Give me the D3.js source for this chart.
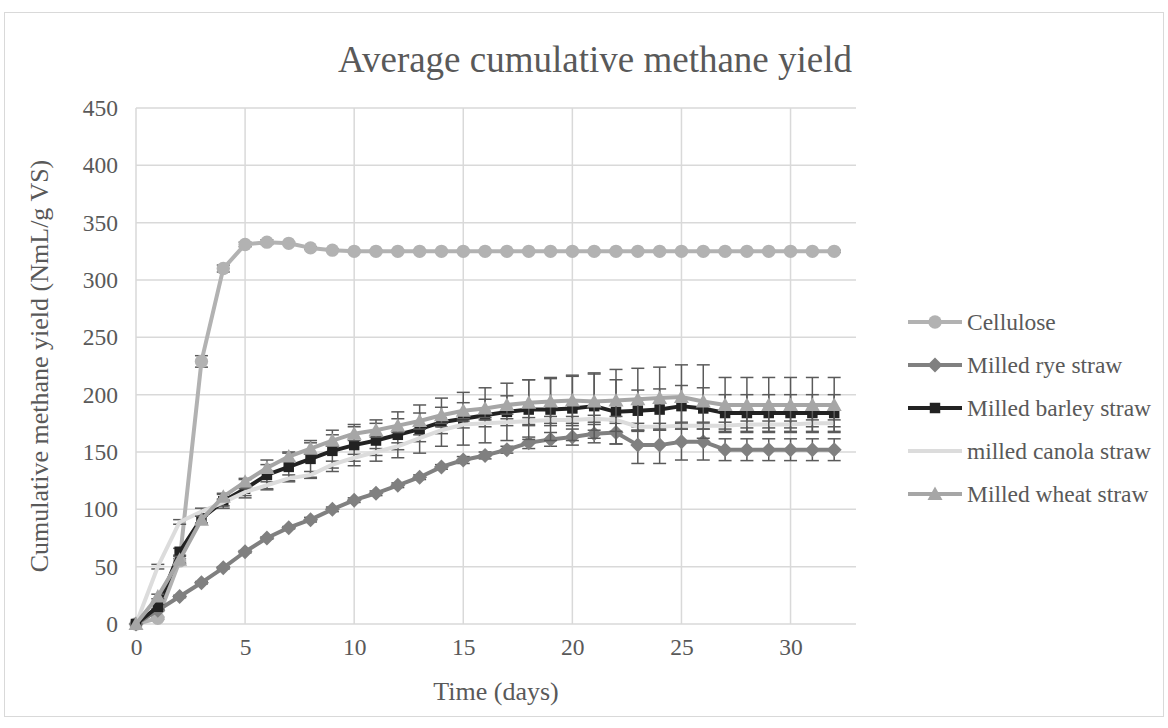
<!DOCTYPE html>
<html>
<head>
<meta charset="utf-8">
<script src="https://cdn.jsdelivr.net/npm/d3@7"></script>
<style>
  html, body { margin: 0; padding: 0; background: #fff; }
  svg { display: block; font-family: "Liberation Serif", "Times New Roman", serif; }
</style>
</head>
<body>
<svg id="chart" width="1168" height="728"></svg>
<script>
// days 0..32
var days = [0,1,2,3,4,5,6,7,8,9,10,11,12,13,14,15,16,17,18,19,20,21,22,23,24,25,26,27,28,29,30,31,32];

var cellulose = [0,5,55,229,310,331,333,332,328,326,325,325,325,325,325,325,325,325,325,325,325,325,325,325,325,325,325,325,325,325,325,325,325];
var cellErr   = [0,1,2,5,3,2,2,1,1,1,1,1,1,1,1,1,1,1,1,1,1,1,1,1,1,1,1,1,1,1,1,1,1];

var rye    = [0,12,24,36,49,63,75,84,91,100,108,114,121,128,137,143,147,152,158,161,163,166,167,156,156,159,159,152,152,152,152,152,152];
var ryeErr = [0,1,1,1,1,1,1,1,2,2,2,2,2,2,2,3,3,3,5,6,7,8,10,16,16,16,16,9.5,9.5,9.5,9.5,9.5,9.5];

var barley    = [0,15,63,92,107,118,130,137,144,151,156,160,165,170,176,179,182,185,187,187,188,190,185,186,187,190,188,184,184,184,184,184,184];
var barleyErr = [0,2,3,4,6,8,13,12,16,18,18,18,20,21,21,23,24,25,26,27,28,28,28,18,18,18,18,16,16,16,16,16,16];

var canola    = [0,50,89,98,106,115,121,127,130,139,145,150,155,162,169,174,175,176,177,178,178,179,178,172,172,173,173,173,174,174,174,175,175];
var canolaErr = [0,2,2,3,3,3,3,3,3,3,3,3,3,3,3,3,3,3,3,3,3,3,3,3,3,3,3,3,3,3,3,3,3];

var wheat    = [0,24,56,91,111,124,136,146,153,160,166,169,173,177,182,186,188,191,193,194,195,194,195,196,197,198,194,191,191,191,191,191,191];
var wheatErr = [0,2,3,3,3,3,3,4,5,5,6,6,6,7,7,7,8,8,20,21,22,25,27,27,27,28,32,24,24,24,24,24,24];

var seriesNames = ['Cellulose', 'Milled rye straw', 'Milled barley straw', 'milled canola straw', 'Milled wheat straw'];
var xTicks = [0,5,10,15,20,25,30];
var yTicks = [0,50,100,150,200,250,300,350,400,450];

var series = [
  { name: seriesNames[0], values: cellulose, err: cellErr,   color: '#b2b2b2', marker: 'circle' },
  { name: seriesNames[1], values: rye,       err: ryeErr,    color: '#808080', marker: 'diamond' },
  { name: seriesNames[2], values: barley,    err: barleyErr, color: '#222222', marker: 'square' },
  { name: seriesNames[3], values: canola,    err: canolaErr, color: '#dcdcdc', marker: null },
  { name: seriesNames[4], values: wheat,     err: wheatErr,  color: '#a6a6a6', marker: 'triangle' }
];

var textColor = '#595959';
var gridColor = '#d9d9d9';
var errColor = '#5a5a5a';
var labelSize = 23.5;
var axisTitleSize = 26;

var svg = d3.select('#chart');

// chart border
svg.append('rect')
  .attr('x', 4.5).attr('y', 12.5)
  .attr('width', 1159).attr('height', 704)
  .attr('fill', '#fff')
  .attr('stroke', gridColor)
  .attr('stroke-width', 1);

var plot = { left: 136, right: 856, top: 108, bottom: 624 };

var x = d3.scaleLinear().domain([0, 33]).range([plot.left, plot.right]);
var y = d3.scaleLinear().domain([0, 450]).range([plot.bottom, plot.top]);

// gridlines
var grid = svg.append('g').attr('class', 'grid');
grid.selectAll('line.h')
  .data(yTicks)
  .enter().append('line')
  .attr('class', 'h')
  .attr('x1', plot.left).attr('x2', plot.right)
  .attr('y1', function (d) { return y(d); })
  .attr('y2', function (d) { return y(d); })
  .attr('stroke', gridColor).attr('stroke-width', 1.5);
grid.selectAll('line.v')
  .data(xTicks)
  .enter().append('line')
  .attr('class', 'v')
  .attr('y1', plot.top).attr('y2', plot.bottom)
  .attr('x1', function (d) { return x(d); })
  .attr('x2', function (d) { return x(d); })
  .attr('stroke', gridColor).attr('stroke-width', 1.5);

// axes (labels only, Excel style)
var yAxis = svg.append('g')
  .attr('transform', 'translate(' + (plot.left - 18) + ',0)')
  .call(d3.axisLeft(y).tickValues(yTicks).tickSize(0).tickPadding(0));
yAxis.select('.domain').remove();
yAxis.selectAll('text')
  .attr('fill', textColor)
  .attr('font-size', labelSize)
  .attr('font-family', '"Liberation Serif", serif');

var xAxis = svg.append('g')
  .attr('transform', 'translate(0,' + (plot.bottom + 14) + ')')
  .call(d3.axisBottom(x).tickValues(xTicks).tickSize(0).tickPadding(0));
xAxis.select('.domain').remove();
xAxis.selectAll('text')
  .attr('fill', textColor)
  .attr('font-size', labelSize)
  .attr('font-family', '"Liberation Serif", serif');

// title + axis titles
svg.append('text')
  .attr('x', 595).attr('y', 72)
  .attr('text-anchor', 'middle')
  .attr('fill', textColor)
  .attr('font-size', 37)
  .text('Average cumulative methane yield');

svg.append('text')
  .attr('transform', 'translate(48,' + ((plot.top + plot.bottom) / 2) + ') rotate(-90)')
  .attr('text-anchor', 'middle')
  .attr('fill', textColor)
  .attr('font-size', axisTitleSize)
  .text('Cumulative methane yield (NmL/g VS)');

svg.append('text')
  .attr('x', (plot.left + plot.right) / 2).attr('y', 700)
  .attr('text-anchor', 'middle')
  .attr('fill', textColor)
  .attr('font-size', axisTitleSize)
  .text('Time (days)');

// marker shapes
function markerPath(type) {
  if (type === 'circle') return d3.symbol().type(d3.symbolCircle).size(140)();
  if (type === 'diamond') return 'M0,-7.5L7.5,0L0,7.5L-7.5,0Z';
  if (type === 'square') return d3.symbol().type(d3.symbolSquare).size(110)();
  if (type === 'triangle') return 'M0,-7.5L7.5,6L-7.5,6Z';
  return null;
}

var line = d3.line()
  .x(function (d) { return x(d.day); })
  .y(function (d) { return y(d.value); });

var layer = svg.append('g').attr('class', 'series');

series.forEach(function (s) {
  var pts = days.map(function (d, i) { return { day: d, value: s.values[i], err: s.err[i] }; });
  var g = layer.append('g');

  // error bars
  var eb = g.selectAll('g.err')
    .data(pts.filter(function (p) { return p.err > 0; }))
    .enter().append('g').attr('class', 'err');
  eb.append('line')
    .attr('x1', function (p) { return x(p.day); })
    .attr('x2', function (p) { return x(p.day); })
    .attr('y1', function (p) { return y(p.value - p.err); })
    .attr('y2', function (p) { return y(p.value + p.err); })
    .attr('stroke', errColor).attr('stroke-width', 1.5);
  [-1, 1].forEach(function (sign) {
    eb.append('line')
      .attr('x1', function (p) { return x(p.day) - 6.5; })
      .attr('x2', function (p) { return x(p.day) + 6.5; })
      .attr('y1', function (p) { return y(p.value + sign * p.err); })
      .attr('y2', function (p) { return y(p.value + sign * p.err); })
      .attr('stroke', errColor).attr('stroke-width', 1.5);
  });

  g.append('path')
    .datum(pts)
    .attr('d', line)
    .attr('fill', 'none')
    .attr('stroke', s.color)
    .attr('stroke-width', 4)
    .attr('stroke-linejoin', 'round');

  if (s.marker) {
    g.selectAll('path.mk')
      .data(pts)
      .enter().append('path')
      .attr('class', 'mk')
      .attr('d', markerPath(s.marker))
      .attr('transform', function (p) { return 'translate(' + x(p.day) + ',' + y(p.value) + ')'; })
      .attr('fill', s.color);
  }
});

// legend
var legend = svg.append('g').attr('transform', 'translate(908,322)');
var items = legend.selectAll('g')
  .data(series)
  .enter().append('g')
  .attr('transform', function (d, i) { return 'translate(0,' + (i * 43) + ')'; });
items.append('line')
  .attr('x1', 0).attr('x2', 54)
  .attr('y1', 0).attr('y2', 0)
  .attr('stroke', function (d) { return d.color; })
  .attr('stroke-width', 4);
items.filter(function (d) { return d.marker; })
  .append('path')
  .attr('d', function (d) { return markerPath(d.marker); })
  .attr('transform', 'translate(27,0)')
  .attr('fill', function (d) { return d.color; });
items.append('text')
  .attr('x', 59).attr('y', 8)
  .attr('fill', textColor)
  .attr('font-size', labelSize)
  .text(function (d) { return d.name; });
</script>
</body>
</html>
